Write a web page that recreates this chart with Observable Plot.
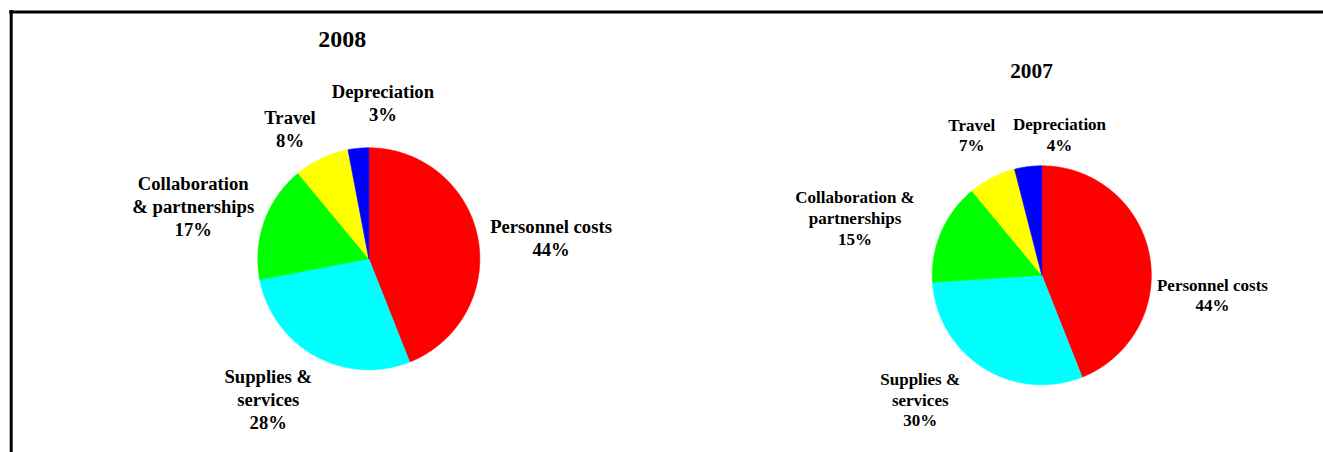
<!DOCTYPE html>
<html>
<head>
<meta charset="utf-8">
<script src="https://cdn.jsdelivr.net/npm/d3@7"></script>
<script src="https://cdn.jsdelivr.net/npm/@observablehq/plot@0.6"></script>
<style>
  html, body { margin: 0; padding: 0; background: #ffffff; overflow: hidden; }
  #chart { width: 1323px; height: 452px; overflow: hidden; }
  #chart svg { display: block; }
</style>
</head>
<body>
<div id="chart"></div>
<script>
// ---- Data ----
const categories = ["Personnel costs", "Supplies & services", "Collaboration & partnerships", "Travel", "Depreciation"];
const years = ["2008", "2007"];
const values2008 = [44, 28, 17, 8, 3];
const values2007 = [44, 30, 15, 7, 4];
const labels2008 = ["Personnel costs", "Supplies &\nservices", "Collaboration\n& partnerships", "Travel", "Depreciation"];
const labels2007 = ["Personnel costs", "Supplies &\nservices", "Collaboration &\npartnerships", "Travel", "Depreciation"];
const colors = ["#ff0000", "#00ffff", "#00ff00", "#ffff00", "#0000ff"];

// ---- Layout (positions / sizes / styles) ----
const W = 1323, H = 452;
const layout = [
  {cx: 368.3, cy: 258.3, r: 111, fontSize: 18.67, titleX: 341.7, titleY: 46, titleSize: 24,
   offsets: [[73.2, 17.5], [-47.1, 72.7], [-71.1, 14.3], [-31.5, -11.2], [24.6, -27.1]]},
  {cx: 1041.3, cy: 274.8, r: 109.5, fontSize: 17, titleX: 1031, titleY: 77.3, titleSize: 21.3,
   offsets: [[63.1, 56.7], [-62.9, 58.7], [-86.3, 12.7], [-20.3, -26.5], [31.4, -15.5]]}
];
const seriesValues = [values2008, values2007];
const seriesLabels = [labels2008, labels2007];
const font = "'Liberation Serif', 'Times New Roman', serif";

// ---- Build wedge polygons and labels from data ----
const wedgePoints = [];
const labelRows = [[], []];
const titleRows = [[], []];
years.forEach((year, i) => {
  const L = layout[i];
  const arcs = d3.pie().sort(null).value(v => v)(seriesValues[i]);
  arcs.forEach((a, k) => {
    const key = year + "|" + categories[k];
    wedgePoints.push({key, category: categories[k], x: L.cx, y: L.cy});
    const n = Math.max(2, Math.ceil((a.endAngle - a.startAngle) / (Math.PI / 360)));
    for (let s = 0; s <= n; s++) {
      const t = a.startAngle + (a.endAngle - a.startAngle) * s / n;
      wedgePoints.push({key, category: categories[k], x: L.cx + L.r * Math.sin(t), y: L.cy - L.r * Math.cos(t)});
    }
    wedgePoints.push({key, category: categories[k], x: L.cx, y: L.cy});
    const mid = (a.startAngle + a.endAngle) / 2;
    labelRows[i].push({
      text: seriesLabels[i][k] + "\n" + seriesValues[i][k] + "%",
      x: L.cx + L.r * Math.sin(mid) + L.offsets[k][0],
      y: L.cy - L.r * Math.cos(mid) + L.offsets[k][1]
    });
  });
  titleRows[i].push({text: year, x: L.titleX, y: L.titleY});
});

const textMarks = [];
years.forEach((year, i) => {
  const L = layout[i];
  textMarks.push(Plot.text(labelRows[i], {
    x: "x", y: "y", text: "text", textAnchor: "middle", lineAnchor: "bottom",
    lineHeight: 1.22, fontSize: L.fontSize, fontWeight: "bold", fontFamily: font, fill: "#000"
  }));
  textMarks.push(Plot.text(titleRows[i], {
    x: "x", y: "y", text: "text", textAnchor: "middle", lineAnchor: "bottom",
    fontSize: L.titleSize, fontWeight: "bold", fontFamily: font, fill: "#000"
  }));
});

const chart = Plot.plot({
  width: W,
  height: H,
  margin: 0,
  style: {background: "#ffffff", fontFamily: font, overflow: "hidden"},
  x: {domain: [0, W], range: [0, W], axis: null},
  y: {domain: [0, H], range: [0, H], axis: null},
  color: {domain: categories, range: colors},
  marks: [
    Plot.line(wedgePoints, {x: "x", y: "y", z: "key", fill: "category", stroke: "category", strokeWidth: 0.6, curve: "linear"}),
    ...textMarks,
    Plot.ruleY([11.5], {x1: 9.2, x2: W, stroke: "#000", strokeWidth: 3}),
    Plot.ruleX([10.7], {y1: 10, y2: H, stroke: "#000", strokeWidth: 3})
  ]
});
document.getElementById("chart").appendChild(chart);
</script>
</body>
</html>
